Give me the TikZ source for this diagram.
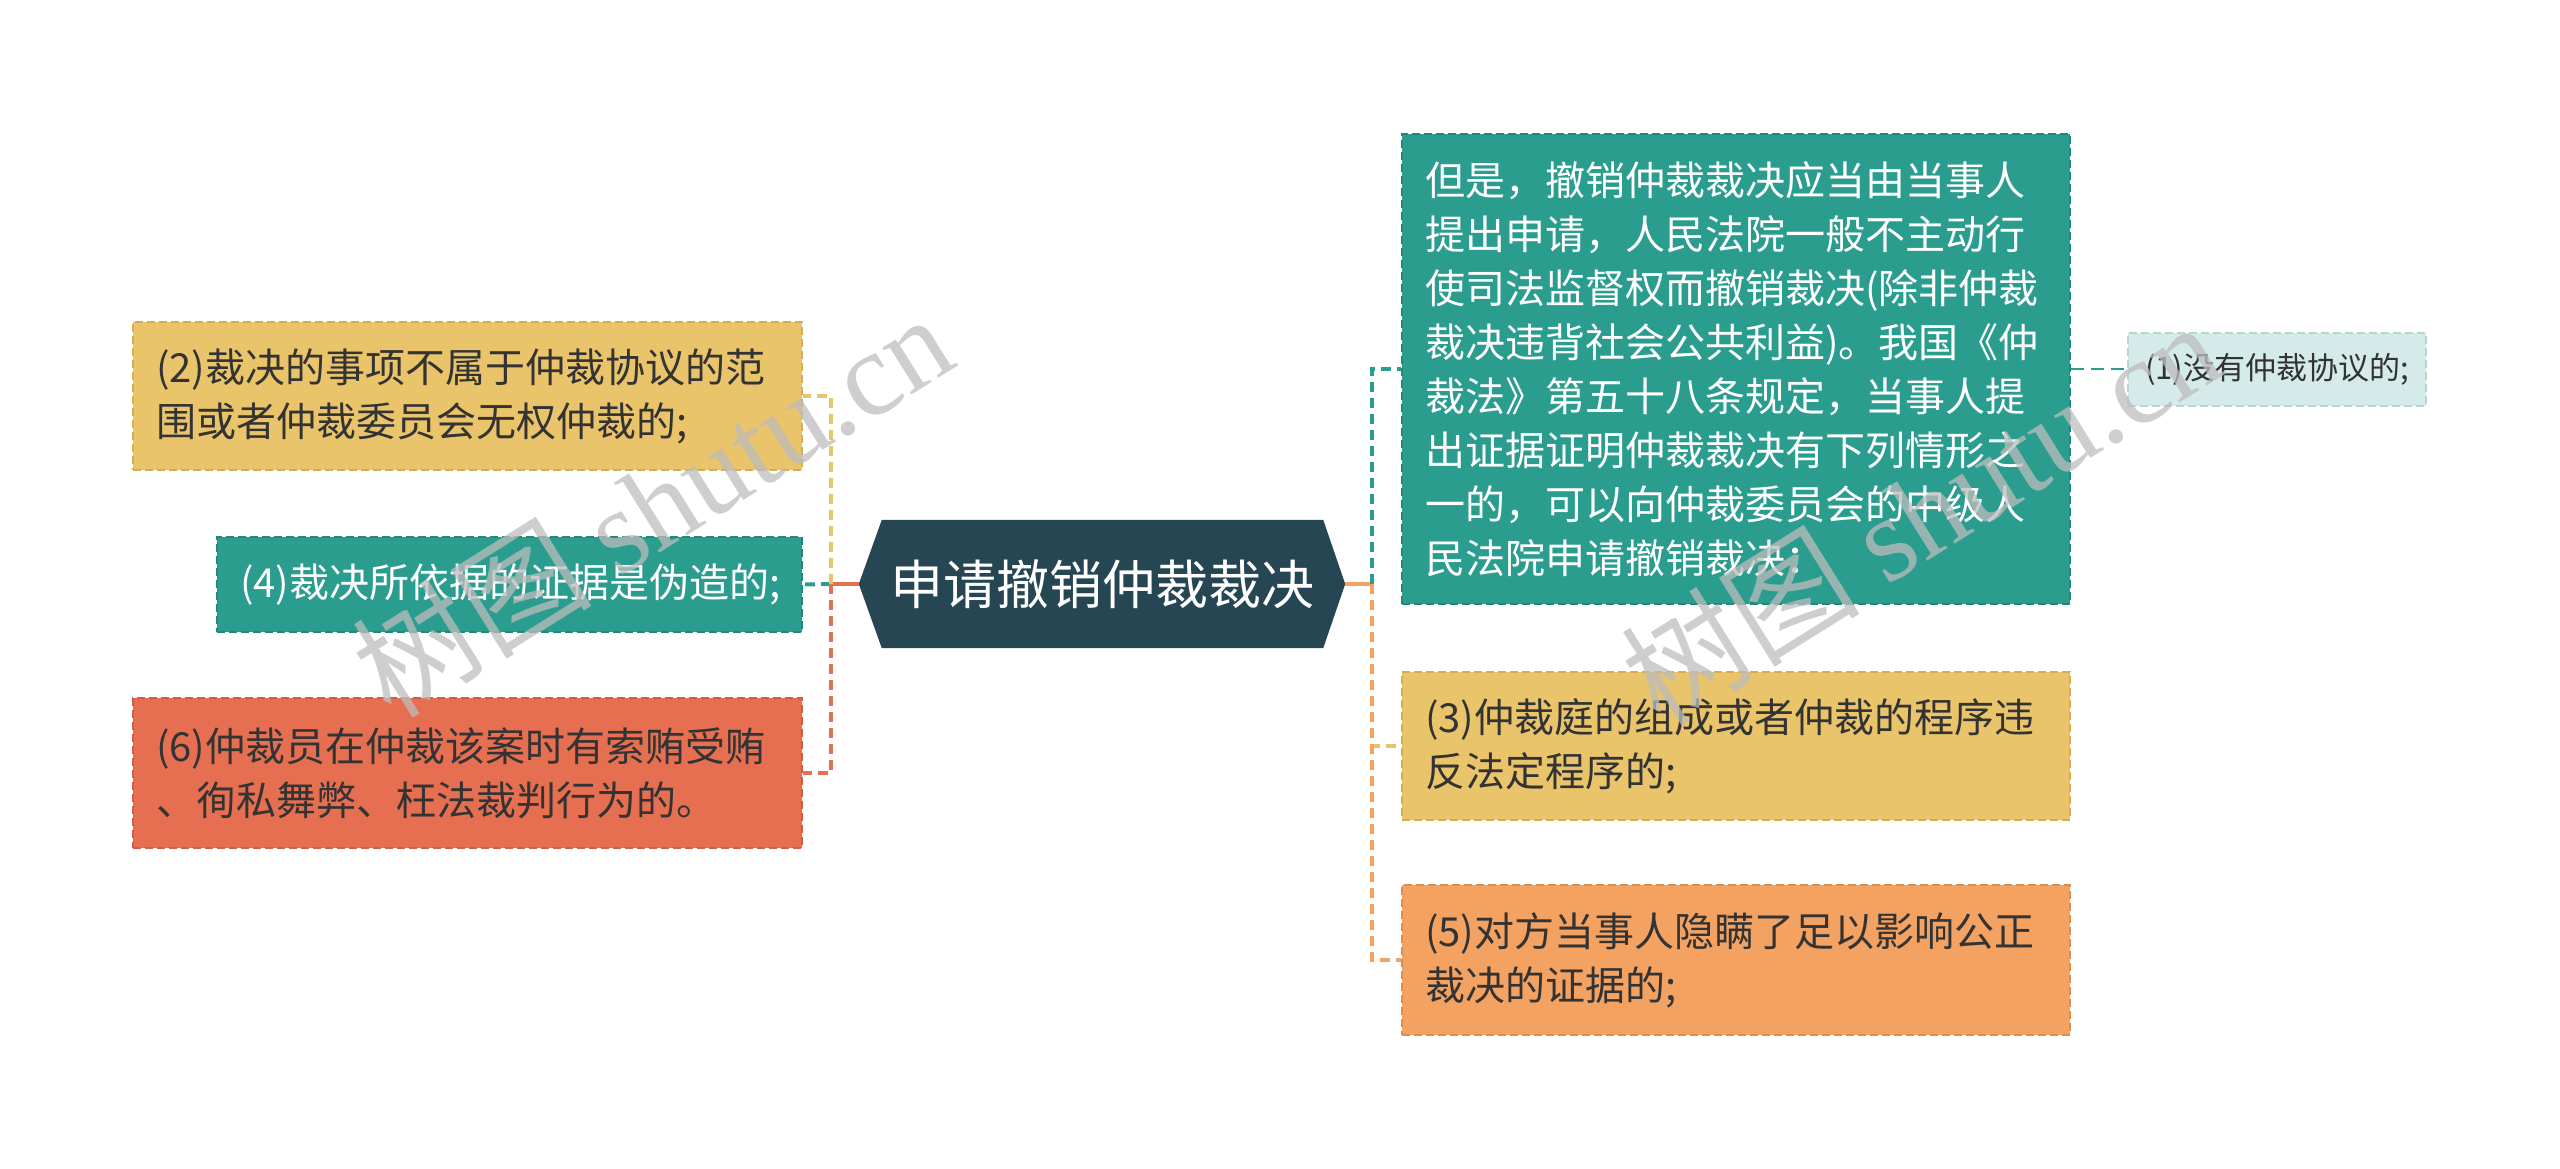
\documentclass[tikz,border=0pt]{standalone}
\usepackage{fontspec}
\setmainfont{Noto Sans CJK SC}
\newfontfamily\wmfont{Liberation Serif}
\usetikzlibrary{backgrounds}
\definecolor{cyel}{HTML}{E9C46A}
\definecolor{cyelD}{HTML}{D6AE52}
\definecolor{cteal}{HTML}{2A9D8F}
\definecolor{ctealD}{HTML}{23877B}
\definecolor{cred}{HTML}{E76F51}
\definecolor{credD}{HTML}{CF5E42}
\definecolor{corg}{HTML}{F4A261}
\definecolor{corgD}{HTML}{DE8D4F}
\definecolor{cdark}{HTML}{264653}
\definecolor{clight}{HTML}{D4EBE9}
\definecolor{clightD}{HTML}{B3D8D4}
\definecolor{ctext}{HTML}{333333}
\definecolor{cwm}{HTML}{BDBDBD}
\begin{document}
\begin{tikzpicture}[x=1pt,y=-1pt,
  box/.style={rectangle, line width=2pt, dash pattern=on 8pt off 4pt,
    align=left, inner xsep=23pt, inner ysep=0pt, anchor=center,
    font=\fontsize{40pt}{54pt}\selectfont},
  wide/.style={minimum width=669pt, text width=623pt},
  rwide/.style={minimum width=668pt, text width=622pt},
  conn/.style={line width=4pt, dash pattern=on 10pt off 6pt},
  solidconn/.style={line width=4pt},
  wm/.style={text=cwm, opacity=0.75, rotate=32, font=\fontsize{120pt}{120pt}\selectfont, inner sep=0pt}
]
\useasboundingbox (0,0) rectangle (2560,1169);

% central node
\node[minimum width=486pt, minimum height=128pt, inner sep=0pt, text=white,
  font=\fontsize{53pt}{53pt}\selectfont] (root) at (1102,584) {申请撤销仲裁裁决};
\begin{scope}[on background layer]
\fill[cdark] (root.west) -- ([xshift=23pt]root.north west) -- ([xshift=-22pt]root.north east)
  -- (root.east) -- ([xshift=-22pt]root.south east) -- ([xshift=23pt]root.south west) -- cycle;
\end{scope}

% left column
\node[box, wide, fill=cyel, draw=cyelD, text=ctext, minimum height=148pt] (b2) at (467.5,396)
  {(2)裁决的事项不属于仲裁协议的范\\围或者仲裁委员会无权仲裁的;};
\node[box, fill=cteal, draw=ctealD, text=white, minimum width=585pt, text width=539pt,
  minimum height=95pt] (b4) at (509.5,584.5) {(4)裁决所依据的证据是伪造的;};
\node[box, wide, fill=cred, draw=credD, text=ctext, minimum height=150pt] (b6) at (467.5,773)
  {(6)仲裁员在仲裁该案时有索贿受贿\\、徇私舞弊、枉法裁判行为的。};

% right column
\node[box, rwide, fill=cteal, draw=ctealD, text=white, minimum height=470pt] (big) at (1736,369)
  {但是，撤销仲裁裁决应当由当事人\\提出申请，人民法院一般不主动行\\使司法监督权而撤销裁决(除非仲裁\\裁决违背社会公共利益)。我国《仲\\裁法》第五十八条规定，当事人提\\出证据证明仲裁裁决有下列情形之\\一的，可以向仲裁委员会的中级人\\民法院申请撤销裁决：};
\node[box, rwide, fill=cyel, draw=cyelD, text=ctext, minimum height=148pt] (b3) at (1736,746)
  {(3)仲裁庭的组成或者仲裁的程序违\\反法定程序的;};
\node[box, rwide, fill=corg, draw=corgD, text=ctext, minimum height=150pt] (b5) at (1736,960)
  {(5)对方当事人隐瞒了足以影响公正\\裁决的证据的;};
\node[box, fill=clight, draw=clightD, text=ctext, minimum width=298pt, text width=264pt,
  inner xsep=17pt, minimum height=73pt, font=\fontsize{31pt}{36pt}\selectfont] (b1) at (2277,369)
  {(1)没有仲裁协议的;};

% trunks
\coordinate (LT) at (831,584);
\coordinate (RT) at (1372,584);

% left connectors
\draw[solidconn, cred] (root.west) -- (LT);
\draw[conn, cteal] (LT) -- (b4.east);
\draw[conn, cyel] (LT) |- (b2.east);
\draw[conn, cred] (LT) |- (b6.east);

% right connectors
\draw[solidconn, corg] (root.east) -- (RT);
\draw[conn, cteal] (RT) |- (big.west);
\draw[conn, cyel] (RT) |- (b3.west);
\draw[conn, corg] (RT) |- (b5.west);
\draw[line width=2.5pt, dash pattern=on 13pt off 7pt, cteal] (big.east) -- (b1.west);

% watermarks
\node[wm] (wm1) at (652,504) {树图 {\wmfont shutu.cn}};
\node[wm] (wm2) at (1920,512) {树图 {\wmfont shutu.cn}};
\end{tikzpicture}
\end{document}
